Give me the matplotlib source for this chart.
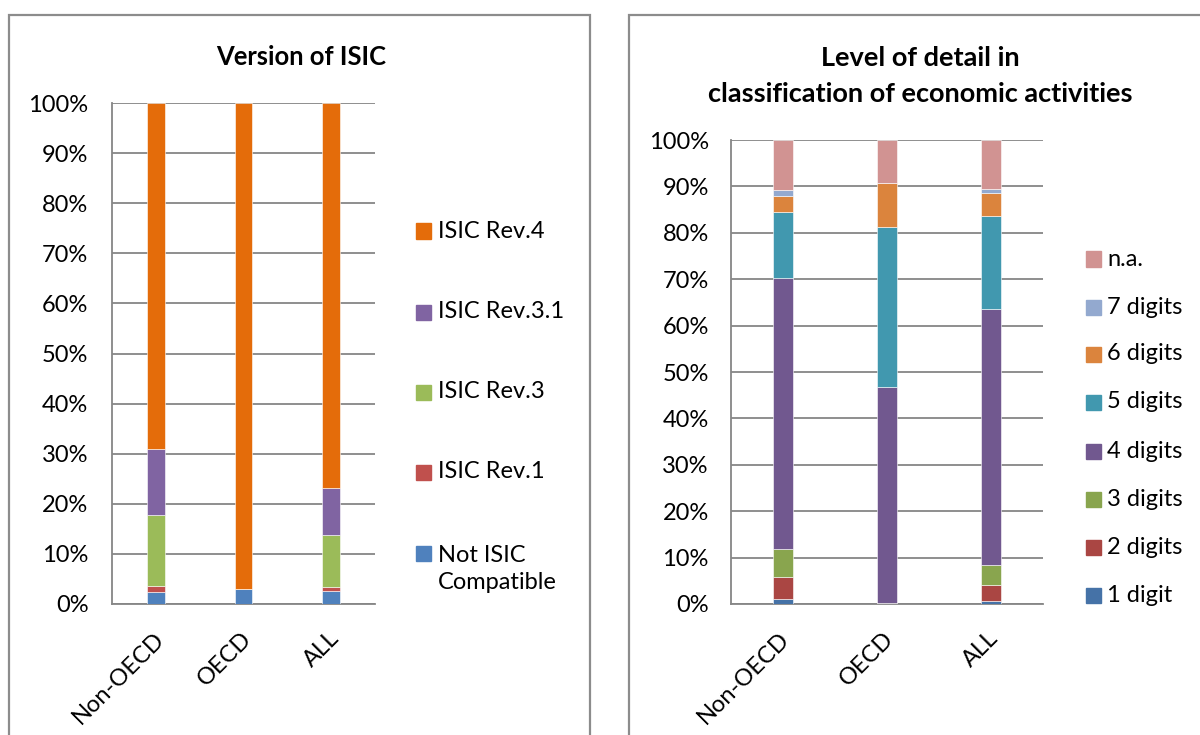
import numpy as np
import matplotlib.pyplot as plt
from matplotlib.patches import Rectangle

plt.rcParams['font.family'] = ['Lato', 'DejaVu Sans']

# ---- data (percent of countries) ----
groups = ["Non-OECD", "OECD", "ALL"]

isic_labels = ["Not ISIC\nCompatible", "ISIC Rev.1", "ISIC Rev.3", "ISIC Rev.3.1", "ISIC Rev.4"]
isic_not = [2.3, 2.9, 2.5]
isic_rev1 = [1.2, 0.0, 0.8]
isic_rev3 = [14.3, 0.0, 10.4]
isic_rev31 = [13.1, 0.0, 9.5]
isic_rev4 = [69.1, 97.1, 76.8]
isic_colors = ["#4F81BD", "#C0504D", "#9BBB59", "#8064A2", "#E46C0A"]

digit_labels = ["1 digit", "2 digits", "3 digits", "4 digits", "5 digits", "6 digits", "7 digits", "n.a."]
d1 = [1.0, 0.0, 0.7]
d2 = [4.8, 0.0, 3.5]
d3 = [6.0, 0.3, 4.3]
d4 = [58.4, 46.5, 55.1]
d5 = [14.2, 34.4, 20.0]
d6 = [3.6, 9.5, 4.9]
d7 = [1.2, 0.0, 0.9]
dna = [10.8, 9.3, 10.6]
digit_colors = ["#4572A7", "#AA4643", "#89A54E", "#71588F", "#4198AF", "#DB843D", "#93A9CF", "#D19392"]

W, H = 1200, 735
FS = 17
fig = plt.figure(figsize=(W / 100, H / 100), dpi=100)


def fx(px):
    return px / W


def fy(py):
    return 1 - py / H


# panel frames
for x0, x1 in [(9, 590), (629, 1210)]:
    fig.add_artist(Rectangle((fx(x0), fy(745)), fx(x1 - x0), (745 - 15) / H,
                             fill=False, ec="#8c8c8c", lw=1.6, transform=fig.transFigure))


def stacked(ax, series, colors, width, xoff):
    x = np.arange(len(groups))
    bottom = np.zeros(len(groups))
    for vals, c in zip(series, colors):
        ax.bar(x, vals, width, bottom=bottom, color=c, edgecolor="white", linewidth=0.4, zorder=3)
        bottom += np.array(vals)
    ax.set_xlim(-0.5, len(groups) - 0.5)
    ax.set_ylim(0, 100)
    ax.set_yticks(range(0, 101, 10))
    ax.set_yticklabels([f"{v}%" for v in range(0, 101, 10)], fontsize=FS)
    ax.yaxis.grid(True, color="#868686", lw=1.3, zorder=0)
    for s in ["top", "right"]:
        ax.spines[s].set_visible(False)
    for s in ["left", "bottom"]:
        ax.spines[s].set_color("#868686")
        ax.spines[s].set_linewidth(1.3)
    ax.tick_params(length=0)
    ax.set_xticks(x)
    ax.set_xticklabels([])
    for xi, g in zip(x, groups):
        ax.annotate(g, xy=(xi, 0), xycoords=("data", "axes fraction"),
                    xytext=(xoff, -24), textcoords="offset pixels",
                    rotation=45, ha="right", va="top", rotation_mode="anchor", fontsize=FS)


def legend(series_labels, colors, xsq, xtxt, ys):
    for lab, c, y in zip(series_labels, colors, ys):
        fig.add_artist(Rectangle((fx(xsq), fy(y + 7.5)), fx(15), 15 / H,
                                 color=c, transform=fig.transFigure))
        n = lab.count("\n")
        fig.text(fx(xtxt), fy(y + n * 16), lab, fontsize=FS, va="center",
                 linespacing=1.35, transform=fig.transFigure)


# left chart
ax1 = fig.add_axes([fx(112), fy(604), fx(262.5), (604 - 103) / H])
stacked(ax1, [isic_not, isic_rev1, isic_rev3, isic_rev31, isic_rev4], isic_colors, 0.2, -2)
ax1.tick_params(axis="y", pad=17)
fig.text(fx(301), fy(65), "Version of ISIC", fontsize=18.4, fontweight="bold", ha="center", va="baseline")
legend(isic_labels, isic_colors, 416, 438, [553, 472, 392, 312, 231])

# right chart
ax2 = fig.add_axes([fx(731), fy(604), fx(312), (604 - 140) / H])
stacked(ax2, [d1, d2, d3, d4, d5, d6, d7, dna], digit_colors, 0.2, -4)
ax2.tick_params(axis="y", pad=16)
fig.text(fx(920), fy(66), "Level of detail in", fontsize=19.5, fontweight="bold", ha="center", va="baseline")
fig.text(fx(920), fy(102), "classification of economic activities", fontsize=19.5, fontweight="bold",
         ha="center", va="baseline")
legend(digit_labels, digit_colors, 1086, 1107, [595, 547, 499, 451, 402, 354, 307, 259])

fig.savefig("out.png", dpi=100)
